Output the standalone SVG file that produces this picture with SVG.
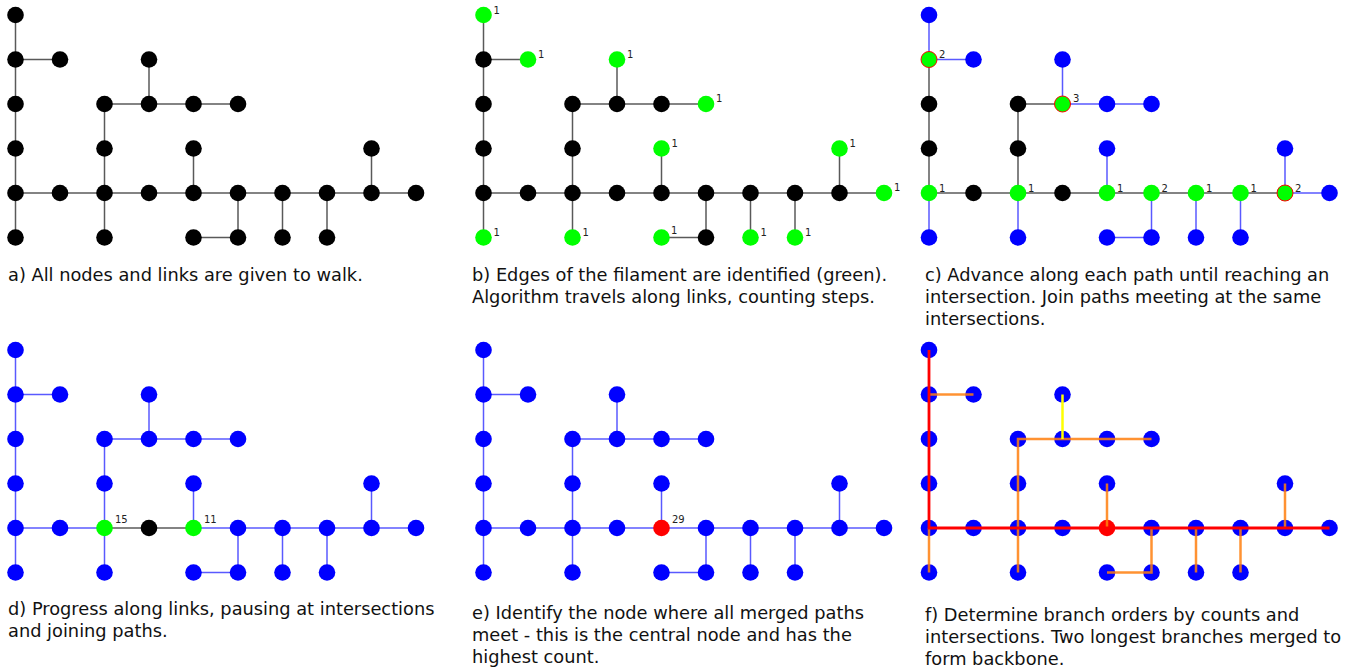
<svg xmlns="http://www.w3.org/2000/svg" width="1351" height="671" viewBox="0 0 1351 671">
<style>
.ek{stroke:#000;stroke-opacity:.65;stroke-width:1.5;fill:none}
.eb{stroke:#0000ff;stroke-opacity:.65;stroke-width:1.5;fill:none}
.k{fill:#000}.g{fill:#00ff00}.b{fill:#0000ff}.r{fill:#ff0000}
.gr{fill:#00ff00;stroke:#ff0000;stroke-width:1}
.lb{font-family:"DejaVu Sans",sans-serif;font-size:10px;fill:#222}
.cap{font-family:"DejaVu Sans",sans-serif;font-size:17.8px;fill:#111}
.fr{stroke:#ff0000;stroke-width:2.8;fill:none}
.fo{stroke:#ff7f0e;stroke-opacity:.85;stroke-width:2.5;fill:none}
.fy{stroke:#ffff00;stroke-width:2.5;fill:none}
</style>
<rect width="1351" height="671" fill="#fff"/>

<!-- Panel a -->
<g id="panel-a" transform="translate(15.5,15)">
<g id="a-links" class="ek">
<path d="M0 0V222.5"/><path d="M0 44.5H44.5"/><path d="M133.5 44.5V89"/><path d="M89 89H222.5"/><path d="M89 89V222.5"/><path d="M178 133.5V178"/><path d="M356 133.5V178"/><path d="M0 178H400.5"/><path d="M222.5 178V222.5H178"/><path d="M267 178V222.5"/><path d="M311.5 178V222.5"/>
</g>
<g id="a-n00"><circle class="k" cx="0" cy="0" r="8.3"/></g>
<g id="a-n01"><circle class="k" cx="0" cy="44.5" r="8.3"/></g>
<g id="a-n02"><circle class="k" cx="0" cy="89" r="8.3"/></g>
<g id="a-n03"><circle class="k" cx="0" cy="133.5" r="8.3"/></g>
<g id="a-n04"><circle class="k" cx="0" cy="178" r="8.3"/></g>
<g id="a-n05"><circle class="k" cx="0" cy="222.5" r="8.3"/></g>
<g id="a-n11"><circle class="k" cx="44.5" cy="44.5" r="8.3"/></g>
<g id="a-n14"><circle class="k" cx="44.5" cy="178" r="8.3"/></g>
<g id="a-n22"><circle class="k" cx="89" cy="89" r="8.3"/></g>
<g id="a-n23"><circle class="k" cx="89" cy="133.5" r="8.3"/></g>
<g id="a-n24"><circle class="k" cx="89" cy="178" r="8.3"/></g>
<g id="a-n25"><circle class="k" cx="89" cy="222.5" r="8.3"/></g>
<g id="a-n31"><circle class="k" cx="133.5" cy="44.5" r="8.3"/></g>
<g id="a-n32"><circle class="k" cx="133.5" cy="89" r="8.3"/></g>
<g id="a-n34"><circle class="k" cx="133.5" cy="178" r="8.3"/></g>
<g id="a-n42"><circle class="k" cx="178" cy="89" r="8.3"/></g>
<g id="a-n43"><circle class="k" cx="178" cy="133.5" r="8.3"/></g>
<g id="a-n44"><circle class="k" cx="178" cy="178" r="8.3"/></g>
<g id="a-n45"><circle class="k" cx="178" cy="222.5" r="8.3"/></g>
<g id="a-n52"><circle class="k" cx="222.5" cy="89" r="8.3"/></g>
<g id="a-n54"><circle class="k" cx="222.5" cy="178" r="8.3"/></g>
<g id="a-n55"><circle class="k" cx="222.5" cy="222.5" r="8.3"/></g>
<g id="a-n64"><circle class="k" cx="267" cy="178" r="8.3"/></g>
<g id="a-n65"><circle class="k" cx="267" cy="222.5" r="8.3"/></g>
<g id="a-n74"><circle class="k" cx="311.5" cy="178" r="8.3"/></g>
<g id="a-n75"><circle class="k" cx="311.5" cy="222.5" r="8.3"/></g>
<g id="a-n83"><circle class="k" cx="356" cy="133.5" r="8.3"/></g>
<g id="a-n84"><circle class="k" cx="356" cy="178" r="8.3"/></g>
<g id="a-n94"><circle class="k" cx="400.5" cy="178" r="8.3"/></g>
</g>

<!-- Panel b -->
<g id="panel-b" transform="translate(483.5,15)">
<g id="b-links" class="ek">
<path d="M0 0V222.5"/><path d="M0 44.5H44.5"/><path d="M133.5 44.5V89"/><path d="M89 89H222.5"/><path d="M89 89V222.5"/><path d="M178 133.5V178"/><path d="M356 133.5V178"/><path d="M0 178H400.5"/><path d="M222.5 178V222.5H178"/><path d="M267 178V222.5"/><path d="M311.5 178V222.5"/>
</g>
<g id="b-n00"><circle class="g" cx="0" cy="0" r="8.3"/><text class="lb" x="10" y="-1">1</text></g>
<g id="b-n01"><circle class="k" cx="0" cy="44.5" r="8.3"/></g>
<g id="b-n02"><circle class="k" cx="0" cy="89" r="8.3"/></g>
<g id="b-n03"><circle class="k" cx="0" cy="133.5" r="8.3"/></g>
<g id="b-n04"><circle class="k" cx="0" cy="178" r="8.3"/></g>
<g id="b-n05"><circle class="g" cx="0" cy="222.5" r="8.3"/><text class="lb" x="10" y="221">1</text></g>
<g id="b-n11"><circle class="g" cx="44.5" cy="44.5" r="8.3"/><text class="lb" x="54.5" y="42.5">1</text></g>
<g id="b-n14"><circle class="k" cx="44.5" cy="178" r="8.3"/></g>
<g id="b-n22"><circle class="k" cx="89" cy="89" r="8.3"/></g>
<g id="b-n23"><circle class="k" cx="89" cy="133.5" r="8.3"/></g>
<g id="b-n24"><circle class="k" cx="89" cy="178" r="8.3"/></g>
<g id="b-n25"><circle class="g" cx="89" cy="222.5" r="8.3"/><text class="lb" x="99" y="221">1</text></g>
<g id="b-n31"><circle class="g" cx="133.5" cy="44.5" r="8.3"/><text class="lb" x="143.5" y="42.5">1</text></g>
<g id="b-n32"><circle class="k" cx="133.5" cy="89" r="8.3"/></g>
<g id="b-n34"><circle class="k" cx="133.5" cy="178" r="8.3"/></g>
<g id="b-n42"><circle class="k" cx="178" cy="89" r="8.3"/></g>
<g id="b-n43"><circle class="g" cx="178" cy="133.5" r="8.3"/><text class="lb" x="188" y="131.5">1</text></g>
<g id="b-n44"><circle class="k" cx="178" cy="178" r="8.3"/></g>
<g id="b-n45"><circle class="g" cx="178" cy="222.5" r="8.3"/><text class="lb" x="187.5" y="218.5">1</text></g>
<g id="b-n52"><circle class="g" cx="222.5" cy="89" r="8.3"/><text class="lb" x="232.5" y="87">1</text></g>
<g id="b-n54"><circle class="k" cx="222.5" cy="178" r="8.3"/></g>
<g id="b-n55"><circle class="k" cx="222.5" cy="222.5" r="8.3"/></g>
<g id="b-n64"><circle class="k" cx="267" cy="178" r="8.3"/></g>
<g id="b-n65"><circle class="g" cx="267" cy="222.5" r="8.3"/><text class="lb" x="277" y="221">1</text></g>
<g id="b-n74"><circle class="k" cx="311.5" cy="178" r="8.3"/></g>
<g id="b-n75"><circle class="g" cx="311.5" cy="222.5" r="8.3"/><text class="lb" x="321.5" y="221">1</text></g>
<g id="b-n83"><circle class="g" cx="356" cy="133.5" r="8.3"/><text class="lb" x="366" y="131.5">1</text></g>
<g id="b-n84"><circle class="k" cx="356" cy="178" r="8.3"/></g>
<g id="b-n94"><circle class="g" cx="400.5" cy="178" r="8.3"/><text class="lb" x="410.5" y="176">1</text></g>
</g>

<!-- Panel c -->
<g id="panel-c" transform="translate(929,15)">
<g id="c-links">
<g class="eb"><path d="M0 0V44.5H44.5"/><path d="M133.5 44.5V89H222.5"/><path d="M178 133.5V178"/><path d="M356 133.5V178H400.5"/><path d="M0 178V222.5"/><path d="M89 178V222.5"/><path d="M222.5 178V222.5H178"/><path d="M267 178V222.5"/><path d="M311.5 178V222.5"/></g>
<g class="ek"><path d="M0 44.5V178"/><path d="M133.5 89H89V178"/><path d="M0 178H356"/></g>
</g>
<g id="c-n00"><circle class="b" cx="0" cy="0" r="8.3"/></g>
<g id="c-n01"><circle class="gr" cx="0" cy="44.5" r="8"/><text class="lb" x="10" y="42.5">2</text></g>
<g id="c-n02"><circle class="k" cx="0" cy="89" r="8.3"/></g>
<g id="c-n03"><circle class="k" cx="0" cy="133.5" r="8.3"/></g>
<g id="c-n04"><circle class="g" cx="0" cy="178" r="8.3"/><text class="lb" x="10" y="176.5">1</text></g>
<g id="c-n05"><circle class="b" cx="0" cy="222.5" r="8.3"/></g>
<g id="c-n11"><circle class="b" cx="44.5" cy="44.5" r="8.3"/></g>
<g id="c-n14"><circle class="k" cx="44.5" cy="178" r="8.3"/></g>
<g id="c-n22"><circle class="k" cx="89" cy="89" r="8.3"/></g>
<g id="c-n23"><circle class="k" cx="89" cy="133.5" r="8.3"/></g>
<g id="c-n24"><circle class="g" cx="89" cy="178" r="8.3"/><text class="lb" x="99" y="176.5">1</text></g>
<g id="c-n25"><circle class="b" cx="89" cy="222.5" r="8.3"/></g>
<g id="c-n31"><circle class="b" cx="133.5" cy="44.5" r="8.3"/></g>
<g id="c-n32"><circle class="gr" cx="133.5" cy="89" r="8"/><text class="lb" x="144" y="87">3</text></g>
<g id="c-n34"><circle class="k" cx="133.5" cy="178" r="8.3"/></g>
<g id="c-n42"><circle class="b" cx="178" cy="89" r="8.3"/></g>
<g id="c-n43"><circle class="b" cx="178" cy="133.5" r="8.3"/></g>
<g id="c-n44"><circle class="g" cx="178" cy="178" r="8.3"/><text class="lb" x="188" y="176.5">1</text></g>
<g id="c-n45"><circle class="b" cx="178" cy="222.5" r="8.3"/></g>
<g id="c-n52"><circle class="b" cx="222.5" cy="89" r="8.3"/></g>
<g id="c-n54"><circle class="g" cx="222.5" cy="178" r="8.3"/><text class="lb" x="232.5" y="176.5">2</text></g>
<g id="c-n55"><circle class="b" cx="222.5" cy="222.5" r="8.3"/></g>
<g id="c-n64"><circle class="g" cx="267" cy="178" r="8.3"/><text class="lb" x="277" y="176.5">1</text></g>
<g id="c-n65"><circle class="b" cx="267" cy="222.5" r="8.3"/></g>
<g id="c-n74"><circle class="g" cx="311.5" cy="178" r="8.3"/><text class="lb" x="321.5" y="176.5">1</text></g>
<g id="c-n75"><circle class="b" cx="311.5" cy="222.5" r="8.3"/></g>
<g id="c-n83"><circle class="b" cx="356" cy="133.5" r="8.3"/></g>
<g id="c-n84"><circle class="gr" cx="356" cy="178" r="8"/><text class="lb" x="366" y="176.5">2</text></g>
<g id="c-n94"><circle class="b" cx="400.5" cy="178" r="8.3"/></g>
</g>

<!-- Panel d -->
<g id="panel-d" transform="translate(15.5,350)">
<g id="d-links">
<g class="eb"><path d="M0 0V222.5"/><path d="M0 44.5H44.5"/><path d="M133.5 44.5V89"/><path d="M89 89H222.5"/><path d="M89 89V222.5"/><path d="M178 133.5V178"/><path d="M356 133.5V178"/><path d="M0 178H89"/><path d="M178 178H400.5"/><path d="M222.5 178V222.5H178"/><path d="M267 178V222.5"/><path d="M311.5 178V222.5"/></g>
<g class="ek"><path d="M89 178H178"/></g>
</g>
<g id="d-n00"><circle class="b" cx="0" cy="0" r="8.3"/></g>
<g id="d-n01"><circle class="b" cx="0" cy="44.5" r="8.3"/></g>
<g id="d-n02"><circle class="b" cx="0" cy="89" r="8.3"/></g>
<g id="d-n03"><circle class="b" cx="0" cy="133.5" r="8.3"/></g>
<g id="d-n04"><circle class="b" cx="0" cy="178" r="8.3"/></g>
<g id="d-n05"><circle class="b" cx="0" cy="222.5" r="8.3"/></g>
<g id="d-n11"><circle class="b" cx="44.5" cy="44.5" r="8.3"/></g>
<g id="d-n14"><circle class="b" cx="44.5" cy="178" r="8.3"/></g>
<g id="d-n22"><circle class="b" cx="89" cy="89" r="8.3"/></g>
<g id="d-n23"><circle class="b" cx="89" cy="133.5" r="8.3"/></g>
<g id="d-n24"><circle class="g" cx="89" cy="178" r="8.3"/><text class="lb" x="99.5" y="173">15</text></g>
<g id="d-n25"><circle class="b" cx="89" cy="222.5" r="8.3"/></g>
<g id="d-n31"><circle class="b" cx="133.5" cy="44.5" r="8.3"/></g>
<g id="d-n32"><circle class="b" cx="133.5" cy="89" r="8.3"/></g>
<g id="d-n34"><circle class="k" cx="133.5" cy="178" r="8.3"/></g>
<g id="d-n42"><circle class="b" cx="178" cy="89" r="8.3"/></g>
<g id="d-n43"><circle class="b" cx="178" cy="133.5" r="8.3"/></g>
<g id="d-n44"><circle class="g" cx="178" cy="178" r="8.3"/><text class="lb" x="188.5" y="173">11</text></g>
<g id="d-n45"><circle class="b" cx="178" cy="222.5" r="8.3"/></g>
<g id="d-n52"><circle class="b" cx="222.5" cy="89" r="8.3"/></g>
<g id="d-n54"><circle class="b" cx="222.5" cy="178" r="8.3"/></g>
<g id="d-n55"><circle class="b" cx="222.5" cy="222.5" r="8.3"/></g>
<g id="d-n64"><circle class="b" cx="267" cy="178" r="8.3"/></g>
<g id="d-n65"><circle class="b" cx="267" cy="222.5" r="8.3"/></g>
<g id="d-n74"><circle class="b" cx="311.5" cy="178" r="8.3"/></g>
<g id="d-n75"><circle class="b" cx="311.5" cy="222.5" r="8.3"/></g>
<g id="d-n83"><circle class="b" cx="356" cy="133.5" r="8.3"/></g>
<g id="d-n84"><circle class="b" cx="356" cy="178" r="8.3"/></g>
<g id="d-n94"><circle class="b" cx="400.5" cy="178" r="8.3"/></g>
</g>

<!-- Panel e -->
<g id="panel-e" transform="translate(483.5,350)">
<g id="e-links" class="eb">
<path d="M0 0V222.5"/><path d="M0 44.5H44.5"/><path d="M133.5 44.5V89"/><path d="M89 89H222.5"/><path d="M89 89V222.5"/><path d="M178 133.5V178"/><path d="M356 133.5V178"/><path d="M0 178H400.5"/><path d="M222.5 178V222.5H178"/><path d="M267 178V222.5"/><path d="M311.5 178V222.5"/>
</g>
<g id="e-n00"><circle class="b" cx="0" cy="0" r="8.3"/></g>
<g id="e-n01"><circle class="b" cx="0" cy="44.5" r="8.3"/></g>
<g id="e-n02"><circle class="b" cx="0" cy="89" r="8.3"/></g>
<g id="e-n03"><circle class="b" cx="0" cy="133.5" r="8.3"/></g>
<g id="e-n04"><circle class="b" cx="0" cy="178" r="8.3"/></g>
<g id="e-n05"><circle class="b" cx="0" cy="222.5" r="8.3"/></g>
<g id="e-n11"><circle class="b" cx="44.5" cy="44.5" r="8.3"/></g>
<g id="e-n14"><circle class="b" cx="44.5" cy="178" r="8.3"/></g>
<g id="e-n22"><circle class="b" cx="89" cy="89" r="8.3"/></g>
<g id="e-n23"><circle class="b" cx="89" cy="133.5" r="8.3"/></g>
<g id="e-n24"><circle class="b" cx="89" cy="178" r="8.3"/></g>
<g id="e-n25"><circle class="b" cx="89" cy="222.5" r="8.3"/></g>
<g id="e-n31"><circle class="b" cx="133.5" cy="44.5" r="8.3"/></g>
<g id="e-n32"><circle class="b" cx="133.5" cy="89" r="8.3"/></g>
<g id="e-n34"><circle class="b" cx="133.5" cy="178" r="8.3"/></g>
<g id="e-n42"><circle class="b" cx="178" cy="89" r="8.3"/></g>
<g id="e-n43"><circle class="b" cx="178" cy="133.5" r="8.3"/></g>
<g id="e-n44"><circle class="r" cx="178" cy="178" r="8.3"/><text class="lb" x="188.5" y="173">29</text></g>
<g id="e-n45"><circle class="b" cx="178" cy="222.5" r="8.3"/></g>
<g id="e-n52"><circle class="b" cx="222.5" cy="89" r="8.3"/></g>
<g id="e-n54"><circle class="b" cx="222.5" cy="178" r="8.3"/></g>
<g id="e-n55"><circle class="b" cx="222.5" cy="222.5" r="8.3"/></g>
<g id="e-n64"><circle class="b" cx="267" cy="178" r="8.3"/></g>
<g id="e-n65"><circle class="b" cx="267" cy="222.5" r="8.3"/></g>
<g id="e-n74"><circle class="b" cx="311.5" cy="178" r="8.3"/></g>
<g id="e-n75"><circle class="b" cx="311.5" cy="222.5" r="8.3"/></g>
<g id="e-n83"><circle class="b" cx="356" cy="133.5" r="8.3"/></g>
<g id="e-n84"><circle class="b" cx="356" cy="178" r="8.3"/></g>
<g id="e-n94"><circle class="b" cx="400.5" cy="178" r="8.3"/></g>
</g>

<!-- Panel f -->
<g id="panel-f" transform="translate(929,350)">
<g id="f-n00"><circle class="b" cx="0" cy="0" r="8.3"/></g>
<g id="f-n01"><circle class="b" cx="0" cy="44.5" r="8.3"/></g>
<g id="f-n02"><circle class="b" cx="0" cy="89" r="8.3"/></g>
<g id="f-n03"><circle class="b" cx="0" cy="133.5" r="8.3"/></g>
<g id="f-n04"><circle class="b" cx="0" cy="178" r="8.3"/></g>
<g id="f-n05"><circle class="b" cx="0" cy="222.5" r="8.3"/></g>
<g id="f-n11"><circle class="b" cx="44.5" cy="44.5" r="8.3"/></g>
<g id="f-n14"><circle class="b" cx="44.5" cy="178" r="8.3"/></g>
<g id="f-n22"><circle class="b" cx="89" cy="89" r="8.3"/></g>
<g id="f-n23"><circle class="b" cx="89" cy="133.5" r="8.3"/></g>
<g id="f-n24"><circle class="b" cx="89" cy="178" r="8.3"/></g>
<g id="f-n25"><circle class="b" cx="89" cy="222.5" r="8.3"/></g>
<g id="f-n31"><circle class="b" cx="133.5" cy="44.5" r="8.3"/></g>
<g id="f-n32"><circle class="b" cx="133.5" cy="89" r="8.3"/></g>
<g id="f-n34"><circle class="b" cx="133.5" cy="178" r="8.3"/></g>
<g id="f-n42"><circle class="b" cx="178" cy="89" r="8.3"/></g>
<g id="f-n43"><circle class="b" cx="178" cy="133.5" r="8.3"/></g>
<g id="f-n44"><circle class="r" cx="178" cy="178" r="8.3"/></g>
<g id="f-n45"><circle class="b" cx="178" cy="222.5" r="8.3"/></g>
<g id="f-n52"><circle class="b" cx="222.5" cy="89" r="8.3"/></g>
<g id="f-n54"><circle class="b" cx="222.5" cy="178" r="8.3"/></g>
<g id="f-n55"><circle class="b" cx="222.5" cy="222.5" r="8.3"/></g>
<g id="f-n64"><circle class="b" cx="267" cy="178" r="8.3"/></g>
<g id="f-n65"><circle class="b" cx="267" cy="222.5" r="8.3"/></g>
<g id="f-n74"><circle class="b" cx="311.5" cy="178" r="8.3"/></g>
<g id="f-n75"><circle class="b" cx="311.5" cy="222.5" r="8.3"/></g>
<g id="f-n83"><circle class="b" cx="356" cy="133.5" r="8.3"/></g>
<g id="f-n84"><circle class="b" cx="356" cy="178" r="8.3"/></g>
<g id="f-n94"><circle class="b" cx="400.5" cy="178" r="8.3"/></g>
<g id="f-links">
<g class="fo"><path d="M0 44.5H44.5"/><path d="M89 222.5V89H222.5"/><path d="M0 178V222.5"/><path d="M178 133.5V178"/><path d="M222.5 178V222.5H178"/><path d="M267 178V222.5"/><path d="M311.5 178V222.5"/><path d="M356 133.5V178"/></g>
<path class="fy" d="M133.5 44.5V89"/>
<path class="fr" d="M0 0V178H400.5"/>
</g>
</g>

<!-- Captions -->
<g id="captions">
<text class="cap" x="8" y="281">a) All nodes and links are given to walk.</text>
<text class="cap" x="472" y="281">b) Edges of the filament are identified (green).</text>
<text class="cap" x="472" y="303">Algorithm travels along links, counting steps.</text>
<text class="cap" x="925" y="281">c) Advance along each path until reaching an</text>
<text class="cap" x="925" y="303">intersection. Join paths meeting at the same</text>
<text class="cap" x="925" y="325">intersections.</text>
<text class="cap" x="8" y="615">d) Progress along links, pausing at intersections</text>
<text class="cap" x="8" y="637">and joining paths.</text>
<text class="cap" x="472" y="619">e) Identify the node where all merged paths</text>
<text class="cap" x="472" y="641">meet - this is the central node and has the</text>
<text class="cap" x="472" y="663">highest count.</text>
<text class="cap" x="925" y="621">f) Determine branch orders by counts and</text>
<text class="cap" x="925" y="643">intersections. Two longest branches merged to</text>
<text class="cap" x="925" y="665">form backbone.</text>
</g>
</svg>
